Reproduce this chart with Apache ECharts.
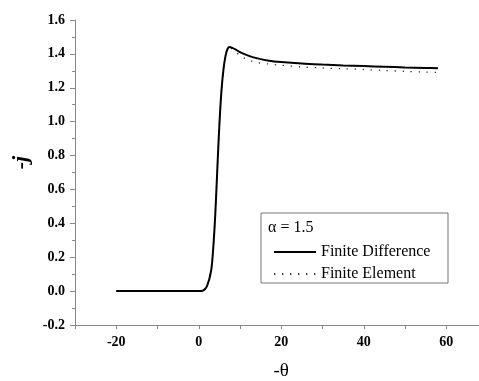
<!DOCTYPE html>
<html>
<head>
<meta charset="utf-8">
<script src="https://cdn.jsdelivr.net/npm/echarts@6/dist/echarts.min.js"></script>
<style>
  html, body { margin: 0; padding: 0; background: #fff; }
  #chart { width: 479px; height: 381px; }
</style>
</head>
<body>
<div id="chart"></div>
<script>
// finite difference curve
const thetaFD = [-20, -10, 0, 1, 2, 3, 3.5, 4, 4.5, 5, 5.5, 6, 6.5, 7, 7.5, 8, 9, 10, 12, 14, 17, 20, 25, 30, 35, 40, 45, 50, 55, 58]
const jFD = [0, 0, 0, 0.003, 0.03, 0.12, 0.25, 0.45, 0.72, 0.98, 1.18, 1.31, 1.39, 1.43, 1.44, 1.437, 1.425, 1.41, 1.39, 1.375, 1.36, 1.352, 1.343, 1.337, 1.332, 1.328, 1.324, 1.32, 1.317, 1.315]

// finite element curve
const thetaFE = [-20, -10, 0, 1, 2, 3, 3.5, 4, 4.5, 5, 5.5, 6, 6.5, 7, 7.5, 8, 9, 10, 11.5, 14, 17, 20, 25, 30, 35, 40, 45, 50, 55, 58]
const jFE = [0, 0, 0, 0.003, 0.03, 0.12, 0.25, 0.45, 0.72, 0.98, 1.18, 1.31, 1.39, 1.43, 1.44, 1.43, 1.41, 1.39, 1.37, 1.35, 1.34, 1.333, 1.323, 1.317, 1.312, 1.308, 1.302, 1.297, 1.293, 1.29]

const xTicks = [-20, 0, 20, 40, 60]

const serif = '"Liberation Serif", "DejaVu Serif", serif'

const chart = echarts.init(document.getElementById('chart'))
chart.setOption({
  animation: false,
  grid: {
    left: 75,
    top: 20,
    width: 412.5,
    height: 305,
    outerBoundsMode: 'none',
    containLabel: false,
  },
  xAxis: {
    type: 'value',
    min: -30,
    max: 70,
    interval: 10,
    name: '-θ',
    nameLocation: 'middle',
    nameGap: 37,
    nameTextStyle: { fontFamily: serif, fontSize: 19, color: '#000' },
    splitLine: { show: false },
    axisLine: { onZero: false, lineStyle: { color: '#888' } },
    axisTick: { length: 4, lineStyle: { color: '#888' } },
    axisLabel: {
      margin: 10,
      fontFamily: serif,
      fontWeight: 'bold',
      fontSize: 14,
      color: '#000',
      formatter: (v) => (xTicks.includes(v) ? String(v) : ''),
    },
  },
  yAxis: {
    type: 'value',
    min: -0.2,
    max: 1.6,
    interval: 0.2,
    name: '-j',
    nameLocation: 'middle',
    nameRotate: 90,
    nameGap: 36,
    nameTextStyle: { fontFamily: serif, fontSize: 22, fontWeight: 'bold', fontStyle: 'italic', color: '#000', padding: [0, 0, 0, 20] },
    splitLine: { show: false },
    axisLine: { show: true, onZero: false, lineStyle: { color: '#888' } },
    axisTick: { show: true, length: 5, lineStyle: { color: '#888' } },
    minorTick: { show: true, splitNumber: 2, length: 3, lineStyle: { color: '#888' } },
    axisLabel: {
      margin: 10,
      fontFamily: serif,
      fontWeight: 'bold',
      fontSize: 14,
      color: '#000',
      formatter: (v) => v.toFixed(1),
    },
  },
  legend: {
    orient: 'vertical',
    left: 268,
    top: 239,
    itemWidth: 42,
    itemHeight: 14,
    itemGap: 6,
    itemStyle: { opacity: 0 },
    textStyle: { fontFamily: serif, fontSize: 16, color: '#000', lineHeight: 16 },
    data: ['Finite Difference', 'Finite Element'],
  },
  graphic: [
    {
      type: 'rect',
      shape: { x: 261, y: 213, width: 187, height: 70 },
      style: { fill: '#fff', stroke: '#777', lineWidth: 1 },
    },
    {
      type: 'text',
      left: 268,
      top: 220,
      style: { text: 'α = 1.5', fontFamily: serif, fontSize: 16, fill: '#000' },
    },
  ],
  series: [
    {
      name: 'Finite Element',
      type: 'line',
      data: thetaFE.map((t, i) => [t, jFE[i]]),
      smooth: 0.3,
      symbol: 'none',
      lineStyle: { color: '#333', width: 1.3, type: [1.3, 6.7] },
      itemStyle: { color: '#333' },
    },
    {
      name: 'Finite Difference',
      type: 'line',
      data: thetaFD.map((t, i) => [t, jFD[i]]),
      smooth: 0.3,
      symbol: 'none',
      lineStyle: { color: '#000', width: 2 },
      itemStyle: { color: '#000' },
    },
  ],
})
</script>
</body>
</html>
